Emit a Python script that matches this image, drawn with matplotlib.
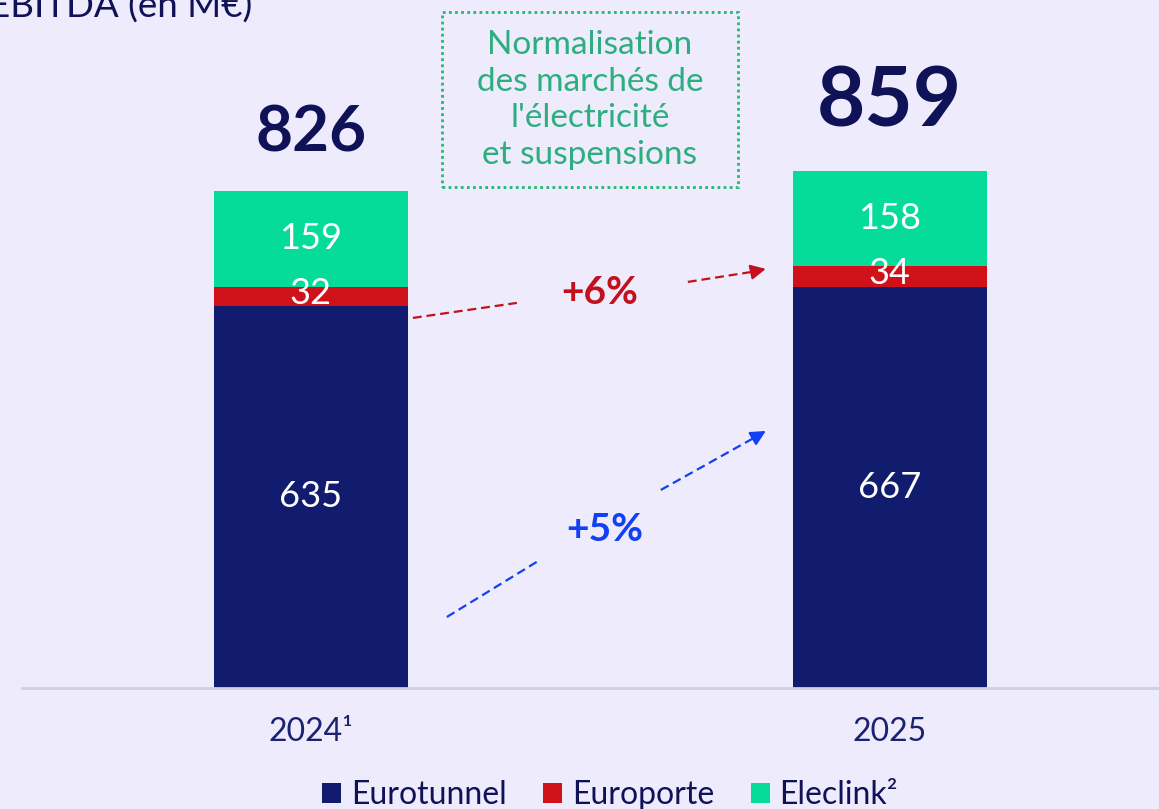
import matplotlib
matplotlib.use("Agg")
import matplotlib.pyplot as plt
from matplotlib.patches import Rectangle
import numpy as np

plt.rcParams['font.family'] = ['Lato', 'DejaVu Sans']

# ---- data ----
categories = ["2024\u00b9", "2025"]
eurotunnel = [635, 667]
europorte = [32, 34]
eleclink = [159, 158]
totals = [826, 859]
series_names = ["Eurotunnel", "Europorte", "Eleclink\u00b2"]
growth_labels = ["+6%", "+5%"]
title = "EBITDA (en M\u20ac)"
note = "Normalisation\ndes march\u00e9s de\nl'\u00e9lectricit\u00e9\net suspensions"

# ---- style ----
BG = "#EDEBFC"
NAVY = "#121C6E"
RED = "#D0111A"
GREEN = "#06DC9A"
TXT = "#0F1257"

W, H = 1159, 809
fig = plt.figure(figsize=(W / 100, H / 100), dpi=100, facecolor=BG)
ax = fig.add_axes([22 / W, 121 / H, 1 - 22 / W, 688 / H])
ax.set_facecolor("none")

x = np.arange(len(categories))
bw = 0.335
b1 = ax.bar(x, eurotunnel, bw, color=NAVY, label=series_names[0], zorder=2)
b2 = ax.bar(x, europorte, bw, bottom=eurotunnel, color=RED, label=series_names[1], zorder=2)
bottom3 = [a + b for a, b in zip(eurotunnel, europorte)]
b3 = ax.bar(x, eleclink, bw, bottom=bottom3, color=GREEN, label=series_names[2], zorder=2)

ax.set_xlim(-0.499, 1.465)
ax.set_ylim(0, 1143)

# segment labels
for i in range(len(x)):
    ax.text(x[i], eurotunnel[i] / 2, str(eurotunnel[i]), ha="center", va="center",
            color="white", fontsize=26, zorder=3)
    ax.text(x[i], eurotunnel[i] + europorte[i] / 2 + 4, str(europorte[i]), ha="center",
            va="center", color="white", fontsize=26, zorder=3)
    ax.text(x[i], bottom3[i] + eleclink[i] / 2, str(eleclink[i]), ha="center",
            va="center", color="white", fontsize=26, zorder=3)

# totals
total_sizes = [46, 60]
total_offsets = [58, 68]
for i in range(len(x)):
    ax.annotate(str(totals[i]), (x[i], totals[i]), xytext=(0, total_offsets[i]),
                textcoords="offset pixels", ha="center", va="center",
                fontsize=total_sizes[i], fontweight="bold", color=TXT)

# axes styling
for s in ["top", "right", "left"]:
    ax.spines[s].set_visible(False)
ax.spines["bottom"].set_color("#CFCFE2")
ax.spines["bottom"].set_linewidth(2)
ax.set_yticks([])
ax.set_xticks(x)
ax.set_xticklabels(categories, fontsize=23, color="#1B2370")
ax.tick_params(axis="x", length=0, pad=21)

# growth arrows
def px(xp, yp):
    return (xp - 311) / 579, (688 - yp) / 0.6018

def dashed_arrow(segs, tip, color):
    for (p, q) in segs:
        a = px(*p); b = px(*q)
        ax.plot([a[0], b[0]], [a[1], b[1]], color=color, lw=1.6,
                dashes=(4, 2.2), solid_capstyle="butt", zorder=1)
    last = segs[-1][1]
    a = px(*last); b = px(*tip)
    ax.annotate("", xy=b, xytext=a,
                arrowprops=dict(arrowstyle="-|>,head_length=0.9,head_width=0.45",
                                color=color, lw=1.6, shrinkA=0, shrinkB=0))

RED_T = "#C4101C"
BLUE_T = "#1240F2"
dashed_arrow([((413, 318), (517, 303)), ((688, 282), (752, 272))], (766, 269), RED_T)
dashed_arrow([((447, 617), (540, 560)), ((661, 490), (754, 438))], (766, 431), BLUE_T)

gx, gy = px(600, 293)
ax.text(gx, gy, growth_labels[0], ha="center", va="center", fontsize=28,
        fontweight="bold", color=RED_T)
gx, gy = px(605, 530)
ax.text(gx, gy, growth_labels[1], ha="center", va="center", fontsize=28,
        fontweight="bold", color=BLUE_T)

# title
fig.text(-11 / W, 1 - 18 / H, title, ha="left", va="baseline", fontsize=26.5, color=TXT)

# note box
rect = Rectangle((442 / W, 1 - 187 / H), 296 / W, 175 / H, transform=fig.transFigure,
                 fill=False, edgecolor="#1DBB6E", lw=2, linestyle=(0, (1, 1.2)))
fig.add_artist(rect)
fig.text(590 / W, 1 - 100 / H, note, ha="center", va="center", fontsize=24,
         color="#2DAE7E", linespacing=1.29)

# legend
leg = fig.legend(handles=[b1, b2, b3], labels=series_names, loc="lower center",
                 bbox_to_anchor=(610 / W, -30 / H), ncol=3, frameon=False,
                 fontsize=23, handlelength=0.6, handleheight=0.6, handletextpad=0.3,
                 columnspacing=1.15, labelcolor=TXT)

fig.savefig("out.png", dpi=100, facecolor=BG)
